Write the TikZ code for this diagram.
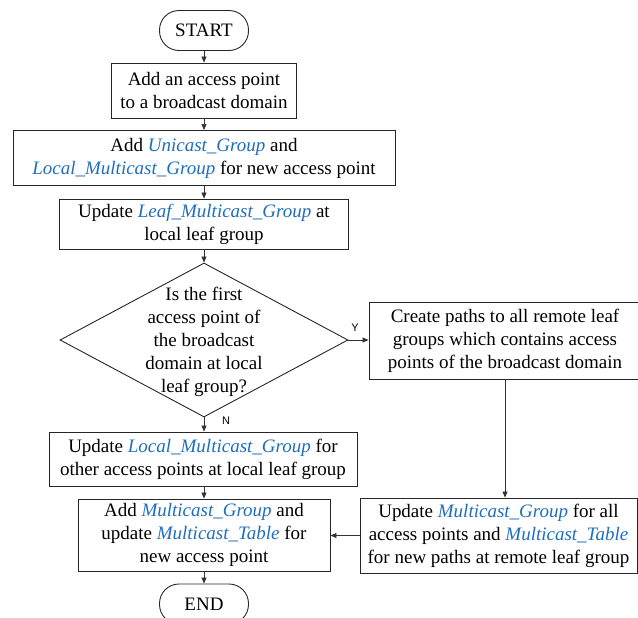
\documentclass[tikz,border=0pt]{standalone}
\usepackage{fontspec}
\setmainfont{Liberation Serif}
\newfontfamily\labelfont{Liberation Sans}
\usetikzlibrary{arrows.meta,shapes.geometric}
\definecolor{termblue}{RGB}{31,110,190}
\newcommand{\tname}[1]{\textcolor{termblue}{\textit{#1}}}
\begin{document}
\begin{tikzpicture}[x=1pt,y=-1pt,
  every node/.style={font=\fontsize{19}{23}\selectfont, align=center, inner sep=0pt},
  proc/.style={draw=black!85, line width=0.9pt, rectangle},
  terminal/.style={draw=black!85, line width=0.9pt, rectangle, rounded corners=19.5pt,
    minimum width=89pt, minimum height=40pt},
  decision/.style={draw=black!85, line width=0.9pt, diamond,
    minimum width=288pt, minimum height=154pt},
  flow/.style={draw=black!80, line width=0.7pt, -{Triangle[length=6pt,width=5pt]}},
  yn/.style={font=\labelfont\fontsize{11}{13}\selectfont}]
\useasboundingbox (0,0) rectangle (638,618);

% main column
\node[terminal] (start) at (204,30.5) {START};
\node[proc, minimum width=185pt, minimum height=55pt] (b1) at (204,90.5)
  {Add an access point\\to a broadcast domain};
\node[proc, minimum width=382pt, minimum height=55pt] (b2) at (204,158)
  {Add \tname{Unicast\_Group} and\\\tname{Local\_Multicast\_Group} for new access point};
\node[proc, minimum width=289pt, minimum height=50pt] (b3) at (204,224)
  {Update \tname{Leaf\_Multicast\_Group} at\\local leaf group};
\node[decision] (dec) at (204,340) {};
\node (dectext) at (204,342)
  {Is the first\\access point of\\the broadcast\\domain at local\\leaf group?};
\node[proc, minimum width=308pt, minimum height=54pt] (lmg) at (203,459)
  {Update \tname{Local\_Multicast\_Group} for\\other access points at local leaf group};
\node[proc, minimum width=252pt, minimum height=72pt] (addmg) at (204,535)
  {Add \tname{Multicast\_Group} and\\update \tname{Multicast\_Table} for\\new access point};
\node[terminal] (end) at (204,604) {END};

% right branch
\node[proc, minimum width=272pt, minimum height=77pt] (create) at (505,340.5)
  {Create paths to all remote leaf\\groups which contains access\\points of the broadcast domain};
\node[proc, minimum width=277pt, minimum height=75pt] (rup) at (498.5,535.5)
  {Update \tname{Multicast\_Group} for all\\access points and \tname{Multicast\_Table}\\for new paths at remote leaf group};

% branch labels
\node[yn] (ylab) at (355,328) {Y};
\node[yn] (nlab) at (226,421) {N};

% connectors
\draw[flow] (start) -- (b1);
\draw[flow] (b1) -- (b2);
\draw[flow] (b2) -- (b3);
\draw[flow] (b3) -- (dec);
\draw[flow] (dec.south) -- (lmg.north -| dec.south);
\draw[flow] (dec.east) -- (dec.east -| create.west);
\draw[flow] (create.south) -- (create.south |- rup.north);
\draw[flow] (lmg.south -| addmg.north) -- (addmg.north);
\draw[flow] (rup.west) -- (rup.west -| addmg.east);
\draw[flow] (addmg) -- (end);
\end{tikzpicture}
\end{document}
